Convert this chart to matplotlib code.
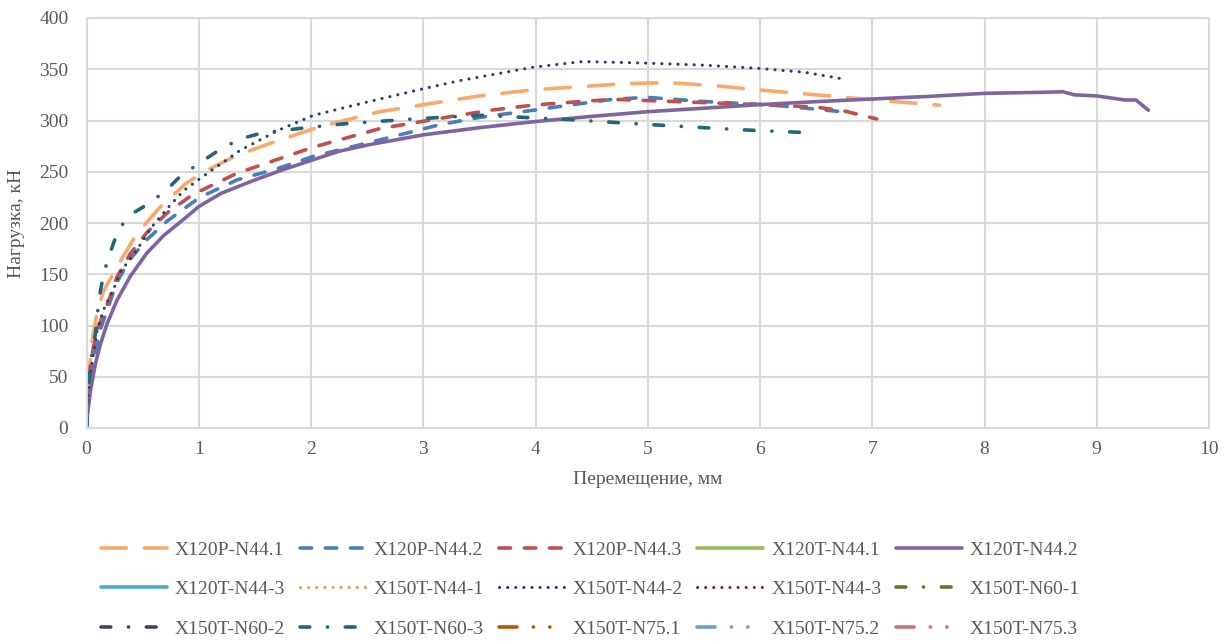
import matplotlib
matplotlib.use('Agg')
import matplotlib.pyplot as plt

plt.rcParams['font.family'] = ['Liberation Serif', 'DejaVu Serif']

# displacement (mm) / load (kN) for each specimen
x_120p_1 = [0, 0.02, 0.05, 0.095, 0.15, 0.26, 0.45, 0.66, 0.89, 1.1, 1.34, 1.72, 2.08, 2.61, 3.15,
            3.5, 3.98, 4.4, 4.81, 5.17, 5.6, 5.97, 6.4, 6.71, 7.13, 7.6]
y_120p_1 = [0, 50, 85, 113, 133, 155, 190, 216, 239, 253, 266, 281, 294, 308.6, 318,
            324, 330, 333, 336, 337, 334, 330, 326, 323, 319, 315]

x_120p_2 = [0, 0.02, 0.06, 0.12, 0.2, 0.27, 0.39, 0.54, 0.72, 0.92, 1.01, 1.34, 1.7, 2.02, 2.61,
            3.15, 3.5, 3.98, 4.3, 4.69, 4.99, 5.52, 6.12, 6.5, 6.78]
y_120p_2 = [0, 30, 62, 95, 120, 142, 165, 184, 202, 218, 225, 242, 253, 265, 281,
            296, 303, 310, 315, 320.7, 322.6, 318.4, 315, 311, 308]

x_120p_3 = [0, 0.02, 0.06, 0.11, 0.2, 0.27, 0.39, 0.54, 0.72, 0.95, 1.34, 1.7, 2.02, 2.61, 3.24,
            3.6, 3.98, 4.4, 4.69, 4.99, 5.52, 6.12, 6.5, 6.74, 7.04]
y_120p_3 = [0, 50, 78, 100, 125, 147, 170, 191, 210, 228, 248.5, 262, 274, 292, 303.7,
            310, 315, 318.5, 320.7, 319.5, 317.4, 315, 313, 309.6, 301.5]

x_120t_2 = [0, 0.006, 0.036, 0.08, 0.125, 0.184, 0.273, 0.39, 0.54, 0.69, 0.87, 1.0, 1.2, 1.5,
            1.75, 2.0, 2.25, 2.5, 2.75, 3.0, 3.5, 4.0, 4.5, 5.0, 5.5, 6.0, 6.5, 7.0, 7.5, 8.0,
            8.5, 8.7, 8.8, 9.0, 9.25, 9.35, 9.46]
y_120t_2 = [0, 10, 37, 63, 82, 102, 125, 148, 171, 188, 204, 216, 229, 242,
            252, 261, 270, 276, 281, 286, 293, 299, 304, 308.6, 312, 315.5, 318.4, 321, 323.5, 326.5,
            327.5, 328, 325, 324, 320, 320, 310]

x_150t_44_2 = [0, 0.006, 0.03, 0.095, 0.15, 0.24, 0.3, 0.45, 0.58, 0.75, 0.87, 1.07, 1.37, 1.72,
               2.02, 2.5, 3.0, 3.33, 3.98, 4.42, 4.99, 5.5, 5.97, 6.4, 6.77]
y_150t_44_2 = [0, 23, 50, 95, 115, 135, 152, 174, 196, 218, 232, 248, 271, 291,
               305, 318, 331, 339, 352, 357.5, 356, 354, 351, 347, 340]

x_150t_60_3 = [0, 0.006, 0.02, 0.05, 0.08, 0.11, 0.14, 0.18, 0.23, 0.29, 0.42, 0.57, 0.72, 0.83,
               1.0, 1.22, 1.4, 1.57, 1.96, 2.32, 2.91, 3.33, 3.53, 4.28, 5.02, 5.82, 6.46]
y_150t_60_3 = [0, 7, 43, 76, 92, 125, 143, 161, 177, 195, 210, 220, 233, 245,
               258, 274, 283, 288, 293, 297, 301.5, 304, 305, 301, 296, 291, 288]

names = ['X120P-N44.1', 'X120P-N44.2', 'X120P-N44.3', 'X120T-N44.1', 'X120T-N44.2',
         'X120T-N44-3', 'X150T-N44-1', 'X150T-N44-2', 'X150T-N44-3', 'X150T-N60-1',
         'X150T-N60-2', 'X150T-N60-3', 'X150T-N75.1', 'X150T-N75.2', 'X150T-N75.3']
xs = [x_120p_1, x_120p_2, x_120p_3, [], x_120t_2,
      [], [], x_150t_44_2, [], [],
      [], x_150t_60_3, [], [], []]
ys = [y_120p_1, y_120p_2, y_120p_3, [], y_120t_2,
      [], [], y_150t_44_2, [], [],
      [], y_150t_60_3, [], [], []]

colors = ['#FAA96A', '#4A7EBB', '#C0504D', '#9BBB59', '#8064A2',
          '#4BACC6', '#F79646', '#243F6E', '#772C2A', '#5F7530',
          '#4D3B62', '#22667A', '#B65708', '#729ACA', '#CD7371']

long_dash = (7, 5)
dash = (3.2, 3.8)
dot = (0.05, 2.6)
dash_dot = (2.7, 4.9, 0.05, 4.9)
long_dash_dot_dot = (5, 4.5, 0.05, 4.5, 0.05, 4.5)
styles = [long_dash, dash, dash, None, None,
          None, dot, dot, dot, dash_dot,
          dash_dot, dash_dot, long_dash_dot_dot, long_dash_dot_dot, long_dash_dot_dot]
widths = [2.6, 2.6, 2.6, 2.6, 2.6,
          2.6, 2.2, 2.2, 2.2, 2.6,
          2.6, 2.6, 2.6, 2.6, 2.6]

fig = plt.figure(figsize=(12.3, 6.41), dpi=100)
ax = fig.add_axes([86.5 / 1230, 213 / 641, 1122.5 / 1230, 410 / 641])

handles = []
for x, y, name, c, s, w in zip(xs, ys, names, colors, styles, widths):
    kw = dict(color=c, lw=w, label=name, dash_capstyle='round', solid_capstyle='round',
              solid_joinstyle='round')
    if s is not None:
        kw['dashes'] = s
    line, = ax.plot(x, y, **kw)
    handles.append(line)

ax.set_xlim(0, 10)
ax.set_ylim(0, 400)
ax.set_xticks(range(0, 11))
ax.set_yticks(range(0, 401, 50))
ax.grid(True, color='#D9D9D9', lw=1.5)
ax.set_axisbelow(True)
for sp in ax.spines.values():
    sp.set_color('#D9D9D9')
    sp.set_linewidth(1.5)
ax.tick_params(length=0, labelsize=14, labelcolor='#595959')
ax.tick_params(axis='y', pad=13)
ax.tick_params(axis='x', pad=9)
ax.set_xlabel('Перемещение, мм', fontsize=14, color='#595959', labelpad=10)
ax.set_ylabel('Нагрузка, кН', fontsize=14, color='#595959', labelpad=10)

# legend is filled row by row, so reorder for matplotlib's column-wise fill
order = [r * 5 + c for c in range(5) for r in range(3)]
fig.legend([handles[i] for i in order], [names[i] for i in order],
           ncol=5, loc='upper left', bbox_to_anchor=(101 / 1230, 1 - 541 / 641),
           frameon=False, fontsize=14, labelcolor='#595959',
           handlelength=3.4, handletextpad=0.4, columnspacing=0.75,
           labelspacing=1.13, borderpad=0, borderaxespad=0)

fig.savefig('out.png', dpi=100)
